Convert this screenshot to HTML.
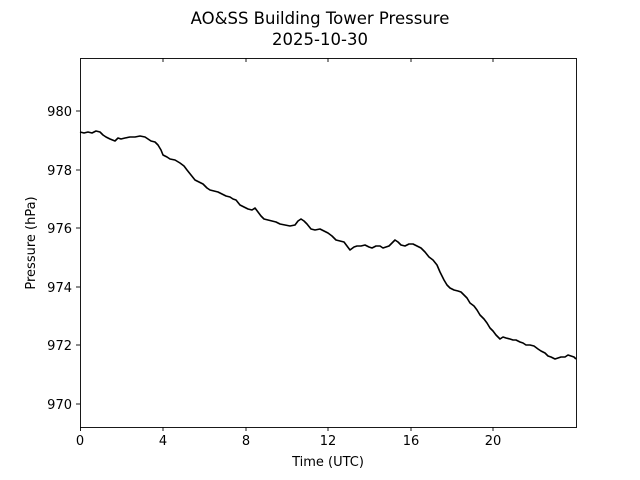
<!DOCTYPE html>
<html><head><meta charset="utf-8"><style>
body{margin:0;background:#fff;}
svg{display:block;font-family:"DejaVu Sans","Liberation Sans",sans-serif;}
</style></head><body>
<svg width="640" height="480" viewBox="0 0 640 480" xmlns="http://www.w3.org/2000/svg">
<rect width="640" height="480" fill="#fff"/>
<text x="320" y="24" font-size="16.5" text-anchor="middle">AO&amp;SS Building Tower Pressure</text>
<text x="320" y="45" font-size="16.5" text-anchor="middle">2025-10-30</text>
<polyline fill="none" stroke="#000" stroke-width="1.6" stroke-linejoin="round" points="80,132 84,133 88,132 92,133 96,131 100,132 103,135 106,137 110,139 115,141 118,138 121,139 125,138 130,137 135,137 140,136 145,137 148,139 151,141 155,142 158,145 161,150 163,155 167,157 170,159 175,160 180,163 184,166 187,170 191,175 195,180 199,182 203,184 207,188 210,190 214,191 218,192 222,194 226,196 230,197 233,199 236,200 240,205 244,207 248,209 252,210 255,208 258,212 261,216 264,219 268,220 272,221 276,222 280,224 285,225 290,226 295,225 298,221 301,219 304,221 307,224 311,229 315,230 320,229 324,231 328,233 332,236 336,240 340,241 344,242 347,246 350,250 354,247 357,246 361,246 365,245 369,247 372,248 376,246 380,246 383,248 386,247 389,246 392,243 395,240 398,242 401,245 405,246 409,244 413,244 417,246 421,248 425,252 429,257 433,260 437,265 440,272 444,280 447,285 450,288 454,290 458,291 461,292 464,295 467,298 470,303 474,306 477,310 480,315 484,319 487,323 490,328 493,331 496,335 500,339 503,337 506,338 510,339 513,340 516,340 520,342 523,343 526,345 530,345 534,346 538,349 541,351 545,353 548,356 551,357 555,359 558,358 561,357 565,357 568,355 571,356 574,357 576,359"/>
<rect x="80.5" y="58.5" width="496" height="369" fill="none" stroke="#000" stroke-width="0.9"/>
<g stroke="#000" stroke-width="0.9">
<line x1="80.5" y1="427" x2="80.5" y2="431"/><line x1="163" y1="427" x2="163" y2="431"/><line x1="246" y1="427" x2="246" y2="431"/><line x1="328" y1="427" x2="328" y2="431"/><line x1="411" y1="427" x2="411" y2="431"/><line x1="493" y1="427" x2="493" y2="431"/>
<line x1="163" y1="58" x2="163" y2="62"/><line x1="246" y1="58" x2="246" y2="62"/><line x1="328" y1="58" x2="328" y2="62"/><line x1="411" y1="58" x2="411" y2="62"/><line x1="493" y1="58" x2="493" y2="62"/>
<line x1="76" y1="111" x2="80" y2="111"/><line x1="76" y1="170" x2="80" y2="170"/><line x1="76" y1="228" x2="80" y2="228"/><line x1="76" y1="287" x2="80" y2="287"/><line x1="76" y1="345" x2="80" y2="345"/><line x1="76" y1="404" x2="80" y2="404"/>
</g>
<g font-size="13" text-anchor="middle">
<text x="80" y="445">0</text><text x="163" y="445">4</text><text x="246" y="445">8</text><text x="328" y="445">12</text><text x="411" y="445">16</text><text x="493" y="445">20</text>
<text x="328" y="466">Time (UTC)</text>
</g>
<g font-size="13" text-anchor="end">
<text x="72" y="116">980</text><text x="72" y="175">978</text><text x="72" y="233">976</text><text x="72" y="292">974</text><text x="72" y="350">972</text><text x="72" y="409">970</text>
</g>
<text transform="translate(35,243) rotate(-90)" font-size="13" text-anchor="middle">Pressure (hPa)</text>
</svg>
</body></html>
